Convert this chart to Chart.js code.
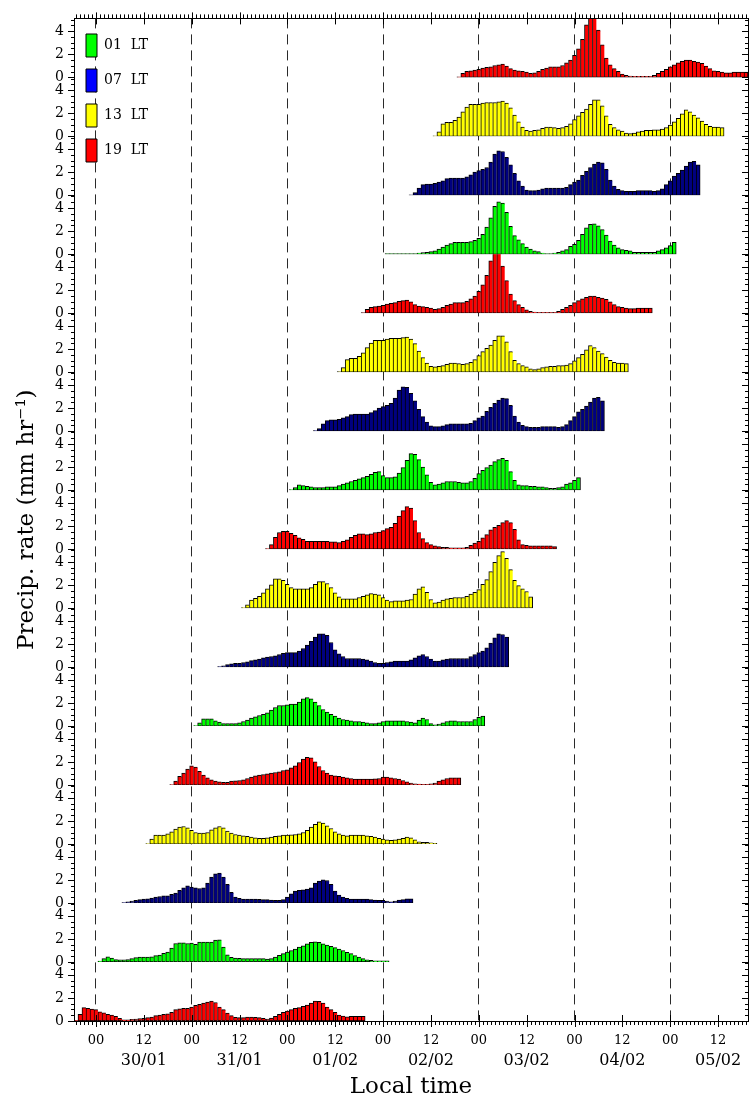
<!DOCTYPE html>
<html>
<head>
<meta charset="utf-8">
<style>
  html, body { margin: 0; padding: 0; background: #ffffff; }
  #wrap { width: 755px; height: 1102px; }
</style>
<script src="https://cdn.jsdelivr.net/npm/chart.js"></script>
</head>
<body>
<div id="wrap"><canvas id="chart" width="755" height="1102"></canvas></div>
<script>
// Hourly precipitation rate (mm/hr) from successive 72-h forecasts, one run every 6 h.
// Each array holds 73 hourly values starting at the run's initial hour.
// Hours are counted from 00 LT 30/01.

const f2919 = [0.05,0.57,1.15,1.10,1.03,0.98,0.80,0.70,0.57,0.52,0.40,0.23,
  0.11,0.11,0.14,0.17,0.20,0.23,0.29,0.34,0.46,0.52,0.57,0.63,
  0.75,0.98,1.06,1.09,1.09,1.20,1.35,1.44,1.55,1.64,1.72,1.60,
  1.20,0.98,0.69,0.46,0.32,0.29,0.29,0.34,0.34,0.32,0.29,0.23,
  0.17,0.26,0.40,0.57,0.75,0.86,0.98,1.09,1.15,1.26,1.38,1.55,
  1.72,1.70,1.55,1.20,0.98,0.75,0.52,0.43,0.37,0.40,0.40,0.40,
  0.40];
const f3001 = [0.08,0.30,0.45,0.35,0.22,0.20,0.20,0.22,0.30,0.38,0.43,0.43,
  0.43,0.45,0.55,0.60,0.75,0.86,1.20,1.60,1.65,1.65,1.60,1.64,
  1.52,1.72,1.72,1.72,1.72,1.90,1.93,1.30,0.63,0.40,0.35,0.32,
  0.30,0.30,0.30,0.30,0.30,0.30,0.26,0.30,0.43,0.57,0.72,0.86,
  1.00,1.12,1.30,1.40,1.58,1.70,1.75,1.70,1.58,1.47,1.35,1.24,
  1.12,1.00,0.83,0.72,0.55,0.43,0.29,0.20,0.14,0.11,0.11,0.11,
  0.11];
const f3007 = [0.05,0.10,0.17,0.23,0.29,0.34,0.37,0.43,0.52,0.57,0.63,0.63,
  0.75,0.86,1.09,1.32,1.49,1.38,1.32,1.26,1.32,1.72,2.24,2.53,
  2.59,2.24,1.61,0.92,0.52,0.40,0.34,0.34,0.34,0.34,0.32,0.29,
  0.29,0.26,0.23,0.23,0.29,0.52,0.80,1.03,1.09,1.15,1.20,1.32,
  1.72,1.90,2.01,1.95,1.61,1.03,0.69,0.52,0.40,0.34,0.34,0.34,
  0.34,0.34,0.29,0.26,0.23,0.23,0.17,0.11,0.17,0.26,0.29,0.37,
  0.37];
const f3013 = [0.05,0.43,0.78,0.78,0.78,0.89,1.06,1.29,1.47,1.52,1.41,1.18,
  1.00,0.95,0.95,1.00,1.24,1.41,1.52,1.41,1.12,0.95,0.83,0.78,
  0.72,0.66,0.60,0.55,0.49,0.49,0.55,0.60,0.66,0.72,0.78,0.78,
  0.80,0.83,0.89,1.00,1.18,1.47,1.70,1.93,1.81,1.58,1.35,1.06,
  0.89,0.78,0.72,0.78,0.78,0.78,0.78,0.72,0.66,0.60,0.49,0.43,
  0.37,0.32,0.37,0.43,0.49,0.60,0.55,0.37,0.20,0.14,0.14,0.11,
  0.06];
const f3019 = [0.05,0.34,0.75,1.03,1.38,1.67,1.55,1.20,0.86,0.63,0.46,0.34,
  0.29,0.23,0.23,0.34,0.37,0.40,0.46,0.57,0.69,0.80,0.86,0.92,
  0.98,1.03,1.09,1.15,1.26,1.32,1.49,1.67,1.95,2.24,2.41,2.36,
  2.01,1.61,1.26,1.03,0.86,0.80,0.75,0.69,0.63,0.57,0.52,0.52,
  0.52,0.52,0.52,0.55,0.57,0.69,0.69,0.63,0.57,0.52,0.40,0.29,
  0.17,0.11,0.09,0.06,0.06,0.11,0.17,0.34,0.46,0.57,0.63,0.63,
  0.63];
const f3101 = [0.05,0.29,0.63,0.63,0.63,0.46,0.34,0.23,0.23,0.23,0.23,0.29,
  0.40,0.52,0.69,0.80,0.92,1.03,1.15,1.38,1.61,1.78,1.78,1.84,
  1.90,1.90,2.07,2.36,2.47,2.36,2.07,1.78,1.44,1.21,1.03,0.86,
  0.69,0.57,0.52,0.46,0.40,0.40,0.34,0.29,0.23,0.23,0.29,0.40,
  0.46,0.46,0.46,0.46,0.46,0.40,0.34,0.29,0.52,0.69,0.57,0.23,
  0.11,0.17,0.29,0.40,0.46,0.46,0.40,0.40,0.40,0.40,0.57,0.75,
  0.86];
const f3107 = [0.05,0.11,0.23,0.29,0.32,0.34,0.40,0.46,0.57,0.63,0.69,0.80,
  0.86,0.92,0.98,1.09,1.20,1.26,1.26,1.26,1.38,1.61,1.90,2.24,
  2.59,2.87,2.87,2.76,2.13,1.49,1.15,0.92,0.75,0.75,0.75,0.75,
  0.69,0.63,0.52,0.40,0.34,0.34,0.40,0.46,0.52,0.52,0.52,0.52,
  0.63,0.80,0.98,1.09,0.92,0.69,0.52,0.52,0.63,0.69,0.75,0.75,
  0.75,0.75,0.75,0.92,1.09,1.26,1.38,1.67,2.07,2.53,2.87,2.82,
  2.59];
const f3113 = [0.05,0.29,0.69,0.86,1.03,1.32,1.67,2.01,2.53,2.53,2.41,2.07,
  1.78,1.67,1.67,1.67,1.67,1.78,2.07,2.30,2.30,2.13,1.78,1.32,
  0.98,0.80,0.80,0.80,0.80,0.92,1.03,1.15,1.26,1.21,1.15,0.92,
  0.69,0.57,0.63,0.63,0.63,0.69,0.75,1.21,1.67,1.84,1.38,0.75,
  0.46,0.52,0.69,0.80,0.86,0.92,0.92,0.92,1.03,1.21,1.38,1.61,
  2.07,2.47,3.16,3.97,4.54,4.89,4.31,3.33,2.41,1.95,1.67,1.44,
  0.98];
const f3119 = [0.05,0.40,1.03,1.44,1.55,1.55,1.38,1.20,0.98,0.86,0.69,0.69,
  0.69,0.69,0.69,0.69,0.63,0.63,0.57,0.69,0.80,1.03,1.20,1.32,
  1.32,1.26,1.32,1.44,1.49,1.61,1.78,1.90,2.24,2.87,3.33,3.68,
  3.56,2.47,1.44,0.92,0.57,0.40,0.29,0.23,0.17,0.17,0.11,0.11,
  0.11,0.11,0.17,0.34,0.52,0.69,0.98,1.26,1.67,1.90,2.07,2.30,
  2.47,2.30,1.72,0.80,0.40,0.34,0.29,0.29,0.29,0.29,0.29,0.29,
  0.23];
const f0101 = [0.05,0.23,0.46,0.40,0.34,0.29,0.23,0.23,0.23,0.29,0.29,0.29,
  0.40,0.52,0.63,0.75,0.86,0.98,1.09,1.21,1.38,1.55,1.61,1.26,
  1.09,1.09,1.15,1.49,1.95,2.59,3.16,3.10,2.64,2.01,1.32,0.69,
  0.46,0.52,0.63,0.75,0.75,0.75,0.69,0.63,0.63,0.75,1.03,1.44,
  1.72,1.95,2.18,2.47,2.64,2.76,2.59,1.61,0.86,0.46,0.40,0.40,
  0.34,0.34,0.29,0.29,0.23,0.17,0.17,0.23,0.29,0.52,0.63,0.86,
  1.09];
const f0107 = [0.05,0.23,0.63,0.92,0.98,0.98,1.03,1.15,1.26,1.44,1.49,1.49,
  1.49,1.49,1.61,1.78,2.01,2.13,2.24,2.41,2.87,3.56,3.85,3.79,
  3.28,2.64,1.90,1.26,0.80,0.46,0.40,0.40,0.46,0.57,0.63,0.63,
  0.63,0.63,0.63,0.69,0.92,1.15,1.32,1.72,2.07,2.41,2.70,2.87,
  2.82,2.24,1.32,0.80,0.52,0.40,0.34,0.34,0.34,0.40,0.40,0.40,
  0.40,0.34,0.40,0.57,0.92,1.26,1.67,1.90,2.18,2.53,2.87,2.93,
  2.64];
const f0113 = [0.05,0.40,1.09,1.21,1.21,1.38,1.67,2.13,2.53,2.76,2.76,2.76,
  2.87,2.93,2.93,2.93,2.99,3.05,2.87,2.47,1.84,1.26,0.80,0.52,
  0.46,0.52,0.57,0.69,0.80,0.80,0.75,0.69,0.75,0.86,1.09,1.44,
  1.78,2.07,2.36,2.76,3.16,3.16,2.64,1.78,1.03,0.75,0.57,0.46,
  0.29,0.23,0.29,0.40,0.46,0.52,0.52,0.57,0.57,0.63,0.75,0.98,
  1.26,1.55,1.95,2.30,2.13,1.84,1.61,1.32,1.03,0.86,0.80,0.80,
  0.75];
const f0119 = [0.05,0.34,0.52,0.57,0.63,0.69,0.80,0.86,0.92,1.03,1.09,1.15,
  0.98,0.75,0.63,0.57,0.52,0.46,0.34,0.40,0.52,0.69,0.80,0.92,
  0.92,0.92,1.03,1.26,1.49,1.90,2.47,3.28,4.54,5.20,5.20,4.08,
  2.82,1.67,1.09,0.75,0.52,0.29,0.17,0.11,0.09,0.09,0.09,0.09,
  0.09,0.17,0.34,0.52,0.69,0.92,1.09,1.26,1.38,1.49,1.49,1.38,
  1.32,1.21,0.98,0.75,0.57,0.52,0.46,0.40,0.40,0.46,0.46,0.46,
  0.46];
const f0201 = [0.06,0.06,0.06,0.06,0.06,0.06,0.06,0.06,0.11,0.14,0.17,0.23,
  0.29,0.46,0.63,0.80,0.92,1.03,1.03,1.03,1.03,1.09,1.21,1.38,
  1.72,2.36,3.16,4.14,4.54,4.43,3.62,2.41,1.61,1.26,0.92,0.63,
  0.46,0.29,0.23,0.11,0.06,0.06,0.11,0.17,0.29,0.40,0.69,0.86,
  1.21,1.72,2.30,2.59,2.64,2.47,2.13,1.67,1.15,0.80,0.57,0.40,
  0.34,0.29,0.17,0.17,0.17,0.17,0.17,0.17,0.29,0.40,0.57,0.75,
  1.03];
const f0207 = [0.05,0.23,0.63,0.92,0.98,0.98,1.03,1.15,1.26,1.44,1.49,1.49,
  1.49,1.49,1.61,1.78,2.01,2.13,2.24,2.41,2.87,3.56,3.85,3.79,
  3.28,2.64,1.90,1.26,0.80,0.46,0.40,0.40,0.46,0.57,0.63,0.63,
  0.63,0.63,0.63,0.69,0.92,1.15,1.32,1.72,2.07,2.41,2.70,2.87,
  2.82,2.24,1.32,0.80,0.52,0.40,0.34,0.34,0.34,0.40,0.40,0.40,
  0.40,0.34,0.40,0.57,0.92,1.26,1.67,1.90,2.18,2.53,2.87,2.93,
  2.64];
const f0213 = [0.05,0.40,1.09,1.21,1.21,1.38,1.67,2.13,2.53,2.76,2.76,2.76,
  2.87,2.93,2.93,2.93,2.99,3.05,2.87,2.47,1.84,1.26,0.80,0.52,
  0.46,0.52,0.57,0.69,0.80,0.80,0.75,0.69,0.75,0.86,1.09,1.44,
  1.78,2.07,2.36,2.76,3.16,3.16,2.64,1.78,1.03,0.75,0.57,0.46,
  0.29,0.23,0.29,0.40,0.46,0.52,0.52,0.57,0.57,0.63,0.75,0.98,
  1.26,1.55,1.95,2.30,2.13,1.84,1.61,1.32,1.03,0.86,0.80,0.80,
  0.75];
const f0219 = [0.05,0.34,0.52,0.57,0.63,0.69,0.80,0.86,0.92,1.03,1.09,1.15,
  0.98,0.75,0.63,0.57,0.52,0.46,0.34,0.40,0.52,0.69,0.80,0.92,
  0.92,0.92,1.03,1.26,1.49,1.90,2.47,3.28,4.54,5.20,5.20,4.08,
  2.82,1.67,1.09,0.75,0.52,0.29,0.17,0.11,0.09,0.09,0.09,0.09,
  0.09,0.17,0.34,0.52,0.69,0.92,1.09,1.26,1.38,1.49,1.49,1.38,
  1.32,1.21,0.98,0.75,0.57,0.52,0.46,0.40,0.40,0.46,0.46,0.46,
  0.46];

// Runs from bottom row to top row
const runs      = [f2919, f3001, f3007, f3013, f3019, f3101, f3107, f3113, f3119,
                   f0101, f0107, f0113, f0119, f0201, f0207, f0213, f0219];
const runStart  = [-5, 1, 7, 13, 19, 25, 31, 37, 43, 49, 55, 61, 67, 73, 79, 85, 91];
const runHourLT = ['19', '01', '07', '13', '19', '01', '07', '13', '19',
                   '01', '07', '13', '19', '01', '07', '13', '19'];

// Axis ticks and labels
const hourTicks  = [0, 12, 24, 36, 48, 60, 72, 84, 96, 108, 120, 132, 144, 156];
const hourLabels = ['00', '12', '00', '12', '00', '12', '00', '12', '00', '12', '00', '12', '00', '12'];
const dateTicks  = [12, 36, 60, 84, 108, 132, 156];
const dateLabels = ['30/01', '31/01', '01/02', '02/02', '03/02', '04/02', '05/02'];
const rateTicks  = [0, 2, 4];
const rateLabels = ['0', '2', '4'];
const legendRuns = ['01', '07', '13', '19'];

// Colours per initial hour
const barColour    = { '01': '#00ff00', '07': '#000080', '13': '#ffff00', '19': '#ff0000' };
const legendColour = { '01': '#00ff00', '07': '#0000ff', '13': '#ffff00', '19': '#ff0000' };

const SERIF = "'DejaVu Serif', 'Liberation Serif', serif";
const X_MIN = -5.5, X_MAX = 163.5, Y_MAX = 5.1;

Chart.defaults.font.family = SERIF;
Chart.defaults.color = '#000';

const datasets = runs.map((vals, k) => ({
  type: 'bar',
  label: runHourLT[k] + ' LT',
  data: vals.map((v, i) => ({ x: runStart[k] + i, y: v })),
  xAxisID: 'x',
  yAxisID: 'y' + k,
  backgroundColor: barColour[runHourLT[k]],
  borderColor: '#000000',
  borderWidth: (c) => ({ left: 1, top: 1, bottom: 1, right: c.dataIndex === vals.length - 1 ? 1 : 0 }),
  borderSkipped: false,
  barPercentage: 1,
  categoryPercentage: 1,
  grouped: false
}));

const scales = {
  x: {
    type: 'linear', position: 'bottom', min: X_MIN, max: X_MAX, z: 1, offset: false,
    afterBuildTicks: (s) => { s.ticks = hourTicks.map(v => ({ value: v })); },
    afterFit: (s) => { s.height = 30; },
    ticks: {
      autoSkip: false, maxRotation: 0, padding: 12,
      font: { family: SERIF, size: 13 }, color: '#000',
      callback: (v) => hourLabels[hourTicks.indexOf(v)]
    },
    grid: {
      offset: false, drawTicks: false, lineWidth: 1,
      color: (c) => (c.tick && c.tick.value % 24 === 0) ? '#2a2a2a' : 'rgba(0,0,0,0)'
    },
    border: { display: false, dash: [10, 6] }
  },
  xDate: {
    type: 'linear', position: 'bottom', min: X_MIN, max: X_MAX, offset: false,
    afterBuildTicks: (s) => { s.ticks = dateTicks.map(v => ({ value: v })); },
    afterFit: (s) => { s.height = 51; },
    ticks: {
      autoSkip: false, maxRotation: 0, padding: 0,
      font: { family: SERIF, size: 16 }, color: '#000',
      callback: (v) => dateLabels[dateTicks.indexOf(v)]
    },
    grid: { display: false, drawTicks: false, offset: false },
    border: { display: false },
    title: { display: true, text: 'Local time', font: { family: SERIF, size: 23 }, color: '#000', padding: { top: 0, bottom: 1 } }
  }
};

runs.forEach((vals, k) => {
  scales['y' + k] = {
    type: 'linear', position: 'left', stack: 'runs', stackWeight: 1,
    min: 0, max: Y_MAX,
    afterBuildTicks: (s) => { s.ticks = rateTicks.map(v => ({ value: v })); },
    afterFit: (s) => { s.width = 74; },
    ticks: {
      autoSkip: false, padding: 10,
      font: { family: SERIF, size: 14 }, color: '#000',
      callback: (v) => rateLabels[rateTicks.indexOf(v)]
    },
    grid: { display: false, drawTicks: false },
    border: { display: false },
    title: k === 8
      ? { display: true, text: 'Precip. rate (mm hr\u207B\u00B9)', font: { family: SERIF, size: 23 }, color: '#000', padding: { top: 13, bottom: 0 } }
      : { display: false }
  };
});

// Plot frame with minor/major tick marks on all four edges
const frameTicks = {
  id: 'frameTicks',
  afterDraw(chart) {
    const { ctx, chartArea: a } = chart;
    const xs = chart.scales.x;
    ctx.save();
    ctx.strokeStyle = '#000';
    ctx.lineWidth = 1;
    ctx.beginPath();
    for (let h = Math.ceil(X_MIN); h <= X_MAX; h++) {
      const px = Math.round(xs.getPixelForValue(h)) + 0.5;
      const major = h % 12 === 0;
      ctx.moveTo(px, a.bottom); ctx.lineTo(px, a.bottom + (major ? 6 : 4));
      ctx.moveTo(px, a.top);    ctx.lineTo(px, a.top - (major ? 6 : 4));
      if (major) {
        ctx.moveTo(px, a.bottom); ctx.lineTo(px, a.bottom - 6);
        ctx.moveTo(px, a.top);    ctx.lineTo(px, a.top + 6);
      }
    }
    runs.forEach((vals, k) => {
      const ys = chart.scales['y' + k];
      for (let v = 0; v <= 5; v += 0.5) {
        const py = Math.round(ys.getPixelForValue(v)) + 0.5;
        const major = v % 2 === 0;
        ctx.moveTo(a.left, py);  ctx.lineTo(a.left - (major ? 6 : 3), py);
        ctx.moveTo(a.right, py); ctx.lineTo(a.right - (major ? 6 : 3), py);
      }
    });
    ctx.stroke();
    ctx.strokeRect(Math.round(a.left) + 0.5, Math.round(a.top) + 0.5,
                   Math.round(a.right - a.left), Math.round(a.bottom - a.top));
    ctx.restore();
  }
};

new Chart(document.getElementById('chart'), {
  type: 'bar',
  data: { datasets },
  options: {
    responsive: false,
    animation: false,
    devicePixelRatio: 1,
    events: [],
    layout: { padding: { top: 14, right: 7, bottom: 0, left: 0 } },
    scales,
    plugins: {
      tooltip: { enabled: false },
      legend: {
        position: 'chartArea',
        align: 'start',
        title: { display: true, text: ' ', font: { size: 1, lineHeight: 1 }, padding: { top: 0, bottom: 21 } },
        labels: {
          boxWidth: 11, boxHeight: 23, padding: 12,
          font: { family: SERIF, size: 14 }, color: '#000',
          generateLabels: () => legendRuns.map(r => ({
            text: r + '  LT', fillStyle: legendColour[r], strokeStyle: '#000',
            lineWidth: 1, hidden: false, fontColor: '#000'
          }))
        }
      }
    }
  },
  plugins: [frameTicks]
});
</script>
</body>
</html>
